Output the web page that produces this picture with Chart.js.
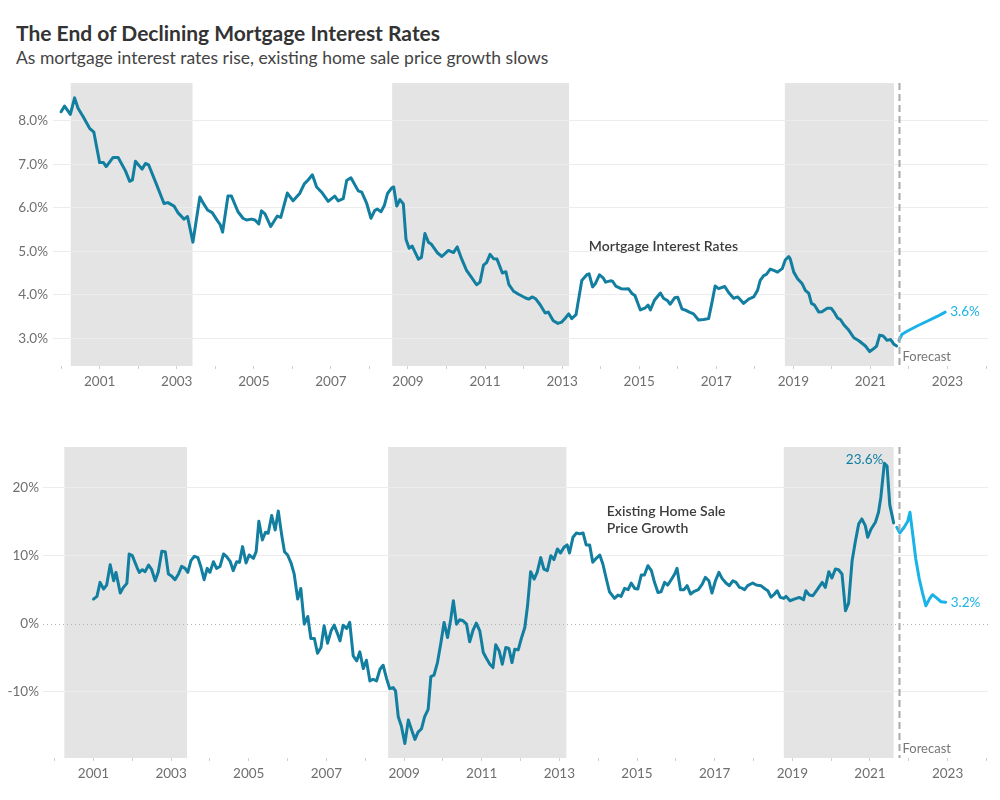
<!DOCTYPE html>
<html>
<head>
<meta charset="utf-8">
<script src="https://cdn.jsdelivr.net/npm/chart.js@4/dist/chart.umd.min.js"></script>
<style>
  html, body { margin: 0; padding: 0; background: #fff; }
  body { width: 1000px; height: 800px; position: relative; overflow: hidden; font-family: Lato, "Noto Sans", sans-serif; }
  #title { position: absolute; left: 16px; top: 20px; font-size: 21px; font-weight: bold; color: #333; white-space: nowrap; }
  #subtitle { position: absolute; left: 16px; top: 47px; font-size: 17.5px; color: #444; white-space: nowrap; }
  .box { position: absolute; left: 0; width: 1000px; }
  #box1 { top: 70px; height: 330px; }
  #box2 { top: 430px; height: 370px; }
</style>
</head>
<body>
<div id="title">The End of Declining Mortgage Interest Rates</div>
<div id="subtitle">As mortgage interest rates rise, existing home sale price growth slows</div>
<div class="box" id="box1"><canvas id="c1"></canvas></div>
<div class="box" id="box2"><canvas id="c2"></canvas></div>
<script>
// ---------------- DATA ----------------
const rateYears = [2000.00,2000.09,2000.24,2000.35,2000.44,2000.57,2000.74,2000.85,2001.00,2001.10,2001.17,2001.35,2001.48,2001.67,2001.78,2001.85,2001.93,2002.10,2002.19,2002.27,2002.47,2002.67,2002.77,2002.93,2003.03,2003.19,2003.28,2003.42,2003.60,2003.68,2003.80,2003.92,2004.06,2004.13,2004.19,2004.33,2004.42,2004.59,2004.72,2004.81,2004.94,2005.03,2005.13,2005.20,2005.29,2005.44,2005.61,2005.70,2005.87,2006.02,2006.19,2006.31,2006.41,2006.52,2006.63,2006.76,2006.93,2007.10,2007.19,2007.32,2007.41,2007.52,2007.71,2007.80,2007.93,2008.04,2008.14,2008.21,2008.30,2008.39,2008.47,2008.58,2008.63,2008.71,2008.79,2008.88,2008.95,2009.03,2009.11,2009.27,2009.35,2009.44,2009.53,2009.61,2009.77,2009.88,2010.05,2010.18,2010.28,2010.39,2010.52,2010.64,2010.78,2010.87,2010.96,2011.04,2011.13,2011.22,2011.31,2011.45,2011.54,2011.62,2011.74,2011.87,2012.04,2012.13,2012.23,2012.32,2012.43,2012.56,2012.64,2012.77,2012.89,2012.99,2013.08,2013.17,2013.25,2013.36,2013.51,2013.64,2013.70,2013.79,2013.86,2013.97,2014.07,2014.13,2014.25,2014.31,2014.39,2014.53,2014.65,2014.72,2014.81,2014.89,2015.03,2015.16,2015.23,2015.29,2015.40,2015.55,2015.63,2015.74,2015.80,2015.92,2016.00,2016.11,2016.19,2016.30,2016.41,2016.54,2016.67,2016.80,2016.89,2016.97,2017.06,2017.22,2017.32,2017.45,2017.56,2017.71,2017.84,2017.97,2018.07,2018.14,2018.23,2018.30,2018.40,2018.49,2018.59,2018.71,2018.79,2018.88,2018.92,2019.01,2019.11,2019.23,2019.31,2019.40,2019.47,2019.55,2019.66,2019.74,2019.88,2019.98,2020.07,2020.15,2020.22,2020.31,2020.44,2020.57,2020.70,2020.87,2020.98,2021.07,2021.16,2021.24,2021.33,2021.43,2021.52,2021.61,2021.68];
const rateValues = [8.21,8.34,8.15,8.53,8.29,8.10,7.83,7.74,7.04,7.04,6.95,7.16,7.16,6.85,6.61,6.64,7.07,6.89,7.02,6.99,6.55,6.10,6.12,6.04,5.89,5.74,5.80,5.21,6.25,6.12,5.95,5.89,5.70,5.61,5.44,6.27,6.27,5.91,5.76,5.72,5.74,5.72,5.63,5.93,5.86,5.57,5.81,5.78,6.34,6.16,6.33,6.55,6.64,6.76,6.48,6.36,6.15,6.27,6.16,6.21,6.63,6.69,6.39,6.36,6.10,5.76,5.94,5.97,5.91,6.06,6.33,6.46,6.48,6.04,6.19,6.09,5.27,5.07,5.12,4.82,4.86,5.41,5.21,5.16,4.96,4.88,5.02,4.97,5.10,4.83,4.56,4.41,4.23,4.29,4.68,4.74,4.93,4.83,4.82,4.50,4.53,4.23,4.08,4.01,3.93,3.90,3.95,3.90,3.77,3.58,3.60,3.40,3.34,3.37,3.46,3.56,3.45,3.54,4.33,4.46,4.48,4.18,4.25,4.46,4.38,4.29,4.32,4.31,4.20,4.14,4.13,4.14,4.03,3.98,3.65,3.70,3.76,3.65,3.88,4.04,3.92,3.86,3.78,3.93,3.94,3.67,3.65,3.60,3.56,3.42,3.43,3.45,3.83,4.20,4.14,4.19,4.05,3.92,3.95,3.80,3.90,3.95,4.10,4.33,4.44,4.47,4.59,4.56,4.52,4.60,4.80,4.88,4.82,4.52,4.37,4.25,4.10,4.03,3.80,3.76,3.60,3.61,3.69,3.69,3.58,3.46,3.43,3.31,3.18,3.01,2.94,2.82,2.69,2.75,2.82,3.07,3.05,2.95,2.97,2.86,2.82];
const rateFcYears = [2021.74,2021.82,2021.95,2022.21,2022.47,2022.73,2022.94];
const rateFcValues = [2.95,3.09,3.16,3.28,3.39,3.50,3.60];

const priceYears = [2001.00,2001.09,2001.17,2001.26,2001.34,2001.43,2001.52,2001.58,2001.69,2001.77,2001.86,2001.92,2002.00,2002.12,2002.18,2002.26,2002.33,2002.42,2002.50,2002.59,2002.67,2002.76,2002.85,2002.93,2003.02,2003.10,2003.19,2003.27,2003.36,2003.43,2003.51,2003.60,2003.69,2003.77,2003.85,2003.93,2004.00,2004.09,2004.17,2004.26,2004.35,2004.43,2004.52,2004.60,2004.69,2004.76,2004.84,2004.93,2005.01,2005.12,2005.19,2005.26,2005.35,2005.43,2005.50,2005.59,2005.68,2005.76,2005.85,2005.92,2006.00,2006.09,2006.17,2006.26,2006.34,2006.43,2006.52,2006.60,2006.69,2006.77,2006.86,2006.94,2007.03,2007.12,2007.20,2007.29,2007.35,2007.43,2007.52,2007.60,2007.69,2007.78,2007.86,2007.95,2008.03,2008.12,2008.20,2008.29,2008.38,2008.46,2008.55,2008.63,2008.72,2008.78,2008.85,2008.93,2009.02,2009.11,2009.19,2009.28,2009.36,2009.45,2009.53,2009.62,2009.69,2009.77,2009.86,2009.95,2010.03,2010.12,2010.20,2010.27,2010.35,2010.43,2010.52,2010.61,2010.69,2010.78,2010.86,2010.95,2011.04,2011.12,2011.21,2011.29,2011.36,2011.45,2011.53,2011.62,2011.70,2011.78,2011.85,2011.94,2012.02,2012.11,2012.18,2012.26,2012.35,2012.43,2012.52,2012.60,2012.69,2012.78,2012.86,2012.95,2013.03,2013.12,2013.20,2013.26,2013.35,2013.44,2013.52,2013.61,2013.69,2013.78,2013.86,2013.95,2014.04,2014.12,2014.21,2014.29,2014.42,2014.51,2014.59,2014.68,2014.77,2014.85,2014.94,2015.02,2015.11,2015.19,2015.28,2015.37,2015.45,2015.54,2015.62,2015.71,2015.79,2015.88,2015.97,2016.03,2016.12,2016.21,2016.29,2016.38,2016.46,2016.58,2016.68,2016.76,2016.85,2016.93,2017.02,2017.11,2017.19,2017.29,2017.38,2017.47,2017.55,2017.64,2017.72,2017.77,2017.85,2017.98,2018.07,2018.19,2018.30,2018.37,2018.45,2018.54,2018.61,2018.69,2018.78,2018.84,2018.94,2019.05,2019.18,2019.29,2019.35,2019.44,2019.53,2019.65,2019.77,2019.85,2019.94,2020.02,2020.11,2020.19,2020.28,2020.37,2020.45,2020.54,2020.62,2020.71,2020.79,2020.88,2020.94,2021.03,2021.14,2021.22,2021.28,2021.37,2021.44,2021.51,2021.61];
const priceValues = [3.65,4.05,6.11,5.13,5.71,8.71,6.35,7.58,4.54,5.37,5.96,10.28,10.03,8.32,7.58,7.97,7.68,8.66,7.97,6.35,7.68,10.67,10.62,7.33,6.99,6.50,7.33,8.46,8.17,7.58,9.30,9.94,9.74,8.32,6.50,8.17,7.58,9.15,8.17,8.46,10.28,9.89,9.20,7.83,9.15,9.05,11.36,8.95,10.13,9.64,10.62,15.09,12.34,13.47,13.32,15.93,13.81,16.61,12.98,10.62,10.13,8.95,7.33,3.65,5.22,-0.03,1.10,-2.14,-2.14,-4.30,-3.47,-0.28,-2.83,-1.01,-0.18,-1.50,-2.49,-0.18,-0.67,0.22,-4.69,-5.43,-4.10,-6.56,-5.33,-8.38,-8.13,-8.38,-6.66,-6.07,-8.03,-9.51,-9.36,-9.85,-13.63,-15.00,-17.56,-14.12,-15.49,-16.97,-15.89,-15.40,-13.63,-12.55,-7.74,-7.54,-5.68,-2.73,0.22,-1.99,0.61,3.41,-0.03,0.61,0.46,-0.03,-2.63,-0.86,0.12,-1.01,-4.20,-5.04,-5.92,-6.41,-3.07,-3.96,-5.92,-3.47,-3.61,-5.68,-3.71,-3.81,-2.14,-0.52,2.67,7.68,6.60,7.60,9.75,8.07,7.83,10.03,9.45,11.02,10.43,11.26,11.61,10.43,12.73,13.37,13.23,13.37,11.61,11.61,9.05,9.64,10.13,8.81,6.60,4.73,3.75,4.24,4.04,5.22,5.03,6.01,5.22,5.13,7.19,7.19,8.56,7.83,6.11,4.63,4.73,6.11,5.71,6.50,7.33,8.17,5.03,5.03,5.62,4.39,4.73,5.03,5.86,6.84,6.35,4.54,6.35,7.58,6.70,6.01,5.62,6.35,6.11,5.37,5.22,5.03,5.62,6.01,5.71,5.62,5.13,4.88,3.95,4.39,4.88,3.90,3.75,4.05,3.41,3.65,3.90,3.55,4.88,4.24,4.14,5.13,6.11,5.37,7.68,6.75,8.07,7.97,7.33,1.93,3.06,9.30,12.00,14.70,15.43,14.45,12.73,13.96,14.94,16.42,18.63,23.60,23.19,17.50,14.85];
const priceFcYears = [2021.69,2021.77,2021.88,2021.97,2022.03,2022.10,2022.18,2022.27,2022.35,2022.44,2022.53,2022.61,2022.70,2022.83,2022.95];
const priceFcValues = [14.21,13.37,14.21,15.04,16.42,13.23,9.54,6.60,4.63,2.67,3.65,4.29,3.90,3.26,3.20];

const recessionStart = [2000.25, 2008.59, 2018.78];
const recessionEnd   = [2003.41, 2013.18, 2021.61];
const forecastStart = 2021.75;

const xTickYears = [2000,2001,2002,2003,2004,2005,2006,2007,2008,2009,2010,2011,2012,2013,2014,2015,2016,2017,2018,2019,2020,2021,2022,2023,2024];
const rateTicks = [3,4,5,6,7,8];
const priceTicks = [-10,0,10,20];

const rateLabel = 'Mortgage Interest Rates';
const priceLabel = ['Existing Home Sale', 'Price Growth'];
const forecastText = 'Forecast';

// ---------------- STYLE ----------------
const HIST = '#127ea0';
const FC = '#1ab3e8';
const FONT = 'Lato, "Noto Sans", sans-serif';
const TICKCOL = '#6f6f6f';

const pts = (xs, ys) => xs.map((x, i) => ({ x, y: ys[i] }));

function makePlugin(cfg) {
  return {
    id: 'deco' + cfg.key,
    beforeDraw(chart) {
      const { ctx, chartArea: a, scales: { x } } = chart;
      ctx.save();
      ctx.fillStyle = '#e4e4e4';
      recessionStart.forEach((s, i) => {
        const x0 = x.getPixelForValue(s), x1 = x.getPixelForValue(recessionEnd[i]);
        ctx.fillRect(x0, a.top, x1 - x0, a.bottom - a.top);
      });
      ctx.restore();
    },
    beforeDatasetsDraw(chart) {
      const { ctx, chartArea: a, scales: { x, y } } = chart;
      if (cfg.zeroLine) {
        const yy = Math.round(y.getPixelForValue(0)) + 0.5;
        ctx.save();
        ctx.strokeStyle = '#b5b5b5';
        ctx.lineWidth = 1;
        ctx.setLineDash([1, 3]);
        ctx.beginPath(); ctx.moveTo(a.left, yy); ctx.lineTo(a.right, yy); ctx.stroke();
        ctx.restore();
      }
    },
    afterDatasetsDraw(chart) {
      const { ctx, chartArea: a, scales: { x, y } } = chart;
      ctx.save();
      // forecast divider
      const fx = Math.round(x.getPixelForValue(forecastStart)) + 0.5;
      ctx.strokeStyle = '#a9a9a9';
      ctx.lineWidth = 2;
      ctx.setLineDash([7, 4]);
      ctx.beginPath(); ctx.moveTo(fx, a.top); ctx.lineTo(fx, a.bottom); ctx.stroke();
      ctx.setLineDash([]);
      ctx.font = '13px ' + FONT;
      ctx.fillStyle = '#777';
      ctx.textAlign = 'left';
      ctx.textBaseline = 'middle';
      ctx.fillText(forecastText, fx + 3, a.bottom - 9);
      // end label
      const lx = x.getPixelForValue(cfg.fcX[cfg.fcX.length - 1]);
      const lv = cfg.fcY[cfg.fcY.length - 1];
      ctx.fillStyle = FC;
      ctx.font = '13.5px ' + FONT;
      ctx.fillText(lv.toFixed(1) + '%', lx + 5, y.getPixelForValue(lv));
      // series annotation
      ctx.fillStyle = '#3c3c3c';
      ctx.font = '600 14px ' + FONT;
      cfg.note.forEach((t, i) => {
        ctx.textAlign = cfg.noteAlign;
        ctx.fillText(t, x.getPixelForValue(cfg.noteX), y.getPixelForValue(cfg.noteY[i]));
      });
      // peak label
      if (cfg.peak) {
        let mi = 0;
        cfg.hY.forEach((v, i) => { if (v > cfg.hY[mi]) mi = i; });
        ctx.fillStyle = HIST;
        ctx.font = '13.5px ' + FONT;
        ctx.textAlign = 'right';
        ctx.fillText(cfg.hY[mi].toFixed(1) + '%', x.getPixelForValue(cfg.hX[mi]) - 1, y.getPixelForValue(cfg.hY[mi]) - 4);
      }
      ctx.restore();
    }
  };
}

function makeChart(id, cfg) {
  return new Chart(document.getElementById(id), {
    type: 'line',
    data: {
      datasets: [
        { data: pts(cfg.hX, cfg.hY), borderColor: HIST, borderWidth: 3, pointRadius: 0, tension: 0, borderJoinStyle: 'round', borderCapStyle: 'round' },
        { data: pts(cfg.fcX, cfg.fcY), borderColor: FC, borderWidth: 3, pointRadius: 0, tension: 0, borderJoinStyle: 'round', borderCapStyle: 'round' }
      ]
    },
    options: {
      responsive: true,
      maintainAspectRatio: false,
      animation: false,
      events: [],
      layout: { padding: { top: cfg.padTop, right: 12, left: 0, bottom: 0 } },
      plugins: { legend: { display: false }, tooltip: { enabled: false } },
      scales: {
        x: {
          type: 'linear',
          min: cfg.xMin, max: cfg.xMax,
          afterBuildTicks: s => { s.ticks = xTickYears.map(v => ({ value: v })); },
          afterFit: s => { s.height = cfg.xH; },
          border: { display: false },
          grid: { drawOnChartArea: false, drawTicks: true, tickLength: 3, tickColor: '#d0d0d0', color: '#d0d0d0' },
          ticks: { autoSkip: false, maxRotation: 0, padding: 5, color: TICKCOL, font: { family: FONT, size: 13.5 },
                   callback: v => (v % 2 === 1 ? String(v) : '') }
        },
        y: {
          min: cfg.yMin, max: cfg.yMax,
          afterBuildTicks: s => { s.ticks = cfg.yTicks.map(v => ({ value: v })); },
          afterFit: s => { s.width = cfg.yW; },
          border: { display: false },
          grid: { drawTicks: false, color: c => (c.tick && c.tick.value === 0 && cfg.zeroLine) ? 'rgba(0,0,0,0)' : '#ececec', lineWidth: 1 },
          ticks: { padding: cfg.yPad, color: TICKCOL, font: { family: FONT, size: 13.5 }, callback: cfg.fmt }
        }
      }
    },
    plugins: [makePlugin(cfg)]
  });
}

makeChart('c1', {
  key: 1, hX: rateYears, hY: rateValues, fcX: rateFcYears, fcY: rateFcValues,
  xMin: 1999.79, xMax: 2024.05, yMin: 2.36, yMax: 8.87, yTicks: rateTicks,
  fmt: v => v.toFixed(1) + '%', padTop: 8, xH: 34, yW: 53, yPad: 5,
  note: [rateLabel], noteX: 2015.63, noteY: [5.12], noteAlign: 'center', zeroLine: false, peak: false
});

makeChart('c2', {
  key: 2, hX: priceYears, hY: priceValues, fcX: priceFcYears, fcY: priceFcValues,
  xMin: 1999.70, xMax: 2024.04, yMin: -19.7, yMax: 26, yTicks: priceTicks,
  fmt: v => v + '%', padTop: 17, xH: 42, yW: 43, yPad: 4,
  note: priceLabel, noteX: 2014.22, noteY: [16.54, 14.05], noteAlign: 'left', zeroLine: true, peak: true
});
</script>
</body>
</html>
